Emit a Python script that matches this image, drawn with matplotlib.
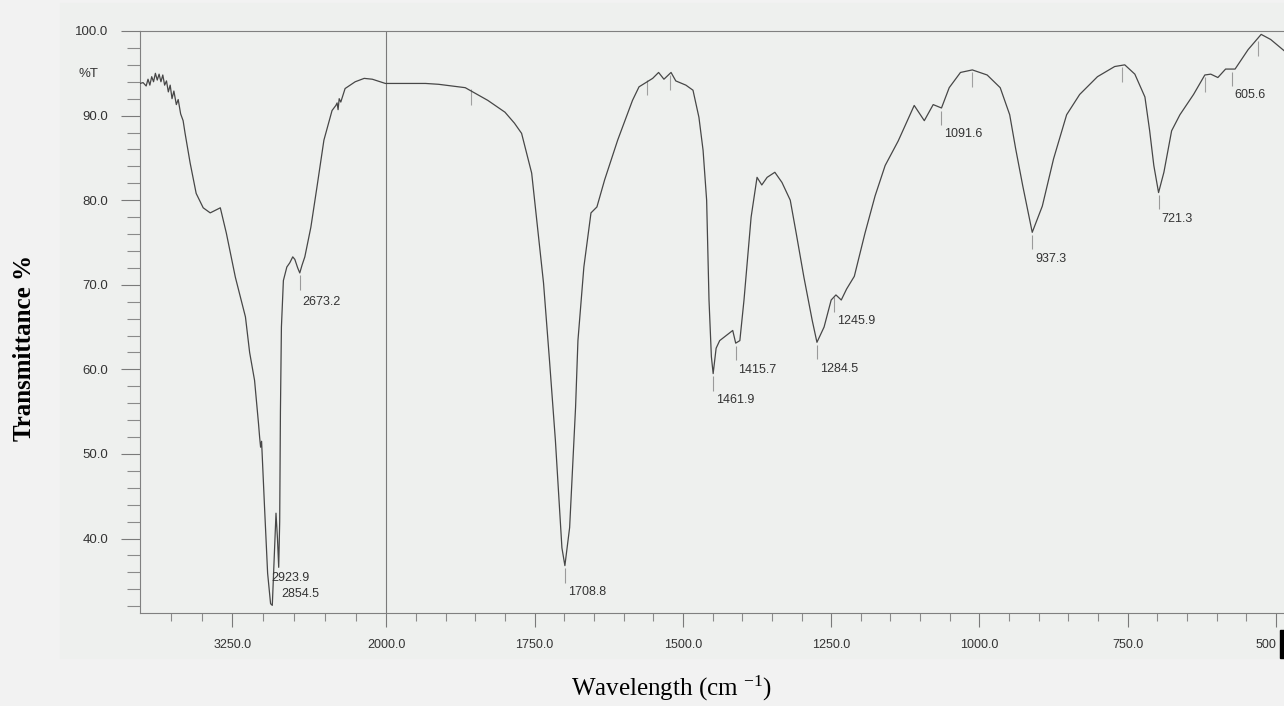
import numpy as np
import matplotlib
matplotlib.use('Agg')
import matplotlib.pyplot as plt
from matplotlib.patches import Rectangle

# IR spectrum: wavenumber (cm-1) and %T
wavenumber = [4000, 3975, 3950, 3935, 3920, 3905, 3890, 3875, 3860, 3845, 3830, 3815,
              3800, 3785, 3770, 3755, 3740, 3725, 3705, 3690, 3670, 3650, 3634, 3593,
              3544, 3487, 3430, 3348, 3299, 3226, 3144, 3110, 3070, 3038, 3029, 3021,
              3013, 2989, 2964, 2940, 2926, 2910, 2896, 2884, 2874, 2866, 2860, 2852,
              2836, 2808, 2784, 2760, 2743, 2720, 2703, 2685, 2662, 2613, 2564, 2507,
              2441, 2410, 2400, 2392, 2383, 2370, 2335, 2253, 2180, 2114, 2050, 2008,
              1934, 1912, 1867, 1829, 1800, 1784, 1772, 1755, 1747, 1735, 1725, 1715, 1704,
              1699, 1691, 1681, 1677, 1667, 1655, 1645, 1632, 1610, 1585, 1574, 1551,
              1541, 1532, 1520, 1512, 1495, 1483, 1473, 1466, 1460, 1456, 1452, 1449,
              1444, 1438, 1427, 1416, 1411, 1404, 1397, 1385, 1375, 1367, 1358, 1345,
              1333, 1319, 1309, 1296, 1282, 1274, 1262, 1250, 1242, 1233, 1224, 1211,
              1193, 1176, 1159, 1137, 1110, 1093, 1078, 1064, 1051, 1032, 1012, 987,
              965, 949, 939, 927, 911, 894, 875, 853, 831, 801, 772, 755,
              738, 721, 713, 706, 698, 689, 676, 662, 639, 620, 610, 598,
              585, 569, 547, 525, 509, 480]
transmittance = [93.8, 93.9, 93.5, 94.3, 93.6, 94.6, 94.0, 95.0, 94.2, 94.9, 94.0, 94.8,
                 93.6, 94.1, 92.8, 93.6, 92.0, 92.9, 91.3, 91.9, 90.2, 89.4, 87.9, 84.4,
                 80.8, 79.1, 78.5, 79.1, 76.1, 70.9, 66.2, 62.0, 58.7, 53.6, 52.0, 50.8,
                 51.5, 43.7, 35.9, 32.3, 32.1, 38.0, 43.0, 40.0, 36.6, 42.0, 55.0, 65.0,
                 70.5, 72.1, 72.6, 73.3, 73.0, 72.0, 71.4, 72.3, 73.3, 76.8, 81.5, 87.1,
                 90.6, 91.2, 91.5, 90.7, 92.0, 91.6, 93.2, 94.0, 94.4, 94.3, 94.0, 93.8,
                 93.8, 93.7, 93.3, 91.8, 90.4, 89.1, 87.9, 83.2, 78.0, 70.2, 61.1, 51.6, 38.9,
                 36.8, 41.3, 55.5, 63.4, 72.1, 78.5, 79.2, 82.4, 87.1, 91.8, 93.4, 94.4,
                 95.1, 94.3, 95.1, 94.1, 93.6, 93.0, 89.8, 85.9, 80.0, 68.2, 61.5, 59.5,
                 62.5, 63.4, 64.0, 64.6, 63.1, 63.4, 68.2, 78.0, 82.7, 81.8, 82.7, 83.3,
                 82.1, 80.0, 76.1, 70.9, 65.8, 63.2, 65.0, 68.2, 68.8, 68.2, 69.5, 71.0,
                 76.1, 80.5, 84.1, 87.0, 91.2, 89.4, 91.3, 90.9, 93.3, 95.1, 95.4, 94.8,
                 93.3, 90.1, 86.1, 81.7, 76.2, 79.3, 84.9, 90.1, 92.5, 94.6, 95.8, 96.0,
                 94.9, 92.2, 88.2, 84.1, 80.9, 83.3, 88.2, 90.1, 92.5, 94.8, 94.9, 94.5,
                 95.5, 95.5, 97.8, 99.6, 99.0, 97.3]

peak_labels = ['2923.9', '2854.5', '2673.2', '1708.8', '1461.9', '1415.7', '1284.5',
               '1245.9', '1091.6', '937.3', '721.3', '605.6']
peak_wn = [2926, 2874, 2703, 1699, 1449, 1411, 1274, 1245, 1064, 911, 698, 575]
peak_T = [32.1, 36.6, 71.4, 36.8, 59.5, 63.1, 63.2, 68.8, 90.9, 76.2, 80.9, 95.5]

# small unlabeled peak-pick marks
mark_wn = [1858, 1560, 1522, 1012, 760, 620, 530]
mark_T = [93.3, 94.4, 95.0, 95.4, 96.0, 94.8, 99.0]

xmajor = [3250, 2000, 1750, 1500, 1250, 1000, 750, 500]
xmajor_labels = ['3250.0', '2000.0', '1750.0', '1500.0', '1250.0', '1000.0', '750.0', '500']
ymajor = [40, 50, 60, 70, 80, 90, 100]

# 4000-2000 region is squeezed relative to 2000-500
R = 0.2077


def fwd(w):
    w = np.asarray(w, dtype=float)
    return np.where(w <= 2000, w, 2000 + (w - 2000) * R)


def inv(u):
    u = np.asarray(u, dtype=float)
    return np.where(u <= 2000, u, 2000 + (u - 2000) / R)


W, H = 1284, 706
fig = plt.figure(figsize=(W / 100, H / 100), dpi=100, facecolor='#f2f2f2')

# scanned paper area
fig.patches.append(Rectangle((60 / W, 1 - 658 / H), 1224 / W, 655 / H,
                             transform=fig.transFigure, color='#eef0ee', zorder=-2))
fig.patches.append(Rectangle((1280 / W, 1 - 658 / H), 4 / W, 28 / H,
                             transform=fig.transFigure, color='black', zorder=-1))

ax = fig.add_axes([140 / W, 1 - 613 / H, 1144 / W, 582 / H])
ax.set_facecolor('none')
ax.set_xscale('function', functions=(fwd, inv))
ax.set_xlim(4000, 486.5)
ax.set_ylim(31.2, 100)

ax.plot(wavenumber, transmittance, color='#474747', lw=0.9, zorder=3)
ax.axvline(2000, color='#7a7a7a', lw=0.8)

# peak marks and labels
for i, (lab, w, t) in enumerate(zip(peak_labels, peak_wn, peak_T)):
    if i == 0:
        ax.annotate(lab, (w, t), xytext=(-1, 19.5), textcoords='offset points',
                    ha='left', va='center', fontsize=9, color='#333333',
                    family='Liberation Sans')
        continue
    if i > 1:
        ax.vlines(w, t - 2.0, t - 0.3, color='#9a9a9a', lw=0.8)
    dy = -21 if lab == '2673.2' else -19
    ax.annotate(lab, (w, t), xytext=(2, dy), textcoords='offset points',
                ha='left', va='center', fontsize=9, color='#333333',
                family='Liberation Sans')
for w, t in zip(mark_wn, mark_T):
    ax.vlines(w, t - 2.0, t - 0.2, color='#a0a0a0', lw=0.8)

ax.set_xticks(xmajor)
ax.set_xticklabels(xmajor_labels)
xminor = [3750, 3500, 3000, 2750, 2500, 2250] + \
         [v for v in range(1950, 450, -50) if v not in xmajor]
ax.set_xticks(xminor, minor=True)
ax.set_yticks(ymajor)
ax.set_yticklabels(['%.1f' % v for v in ymajor])
ax.set_yticks([v for v in range(32, 100, 2) if v not in ymajor], minor=True)

ax.tick_params(axis='x', which='major', direction='out', length=10, width=0.8,
               color='#7a7a7a', pad=9, labelsize=9, labelcolor='#333333')
ax.tick_params(axis='x', which='minor', direction='out', length=6, width=0.8,
               color='#8a8a8a')
ax.tick_params(axis='y', which='major', direction='out', length=14, width=0.8,
               color='#7a7a7a', pad=9, labelsize=9.5, labelcolor='#333333')
ax.tick_params(axis='y', which='minor', direction='out', length=9.5, width=0.8,
               color='#8a8a8a')
for lab in ax.get_xticklabels() + ax.get_yticklabels():
    lab.set_family('Liberation Sans')
ax.get_xticklabels()[-1].set_ha('right')

for s in ['left', 'bottom', 'top']:
    ax.spines[s].set_color('#808080')
    ax.spines[s].set_linewidth(0.8)
ax.spines['right'].set_visible(False)

fig.text(98 / W, 1 - 74 / H, '%T', ha='right', va='center', fontsize=9.5,
         color='#333333', family='Liberation Sans')
fig.text(25 / W, 1 - 348 / H, 'Transmittance %', rotation=90, ha='center',
         va='center', fontsize=18, fontweight='bold', family='Liberation Serif')
fig.text(671 / W, 1 - 688 / H, 'Wavelength (cm $\\mathregular{^{-1}}$)',
         ha='center', va='center', fontsize=18, family='Liberation Serif')

fig.savefig('out.png', dpi=100, facecolor=fig.get_facecolor())
